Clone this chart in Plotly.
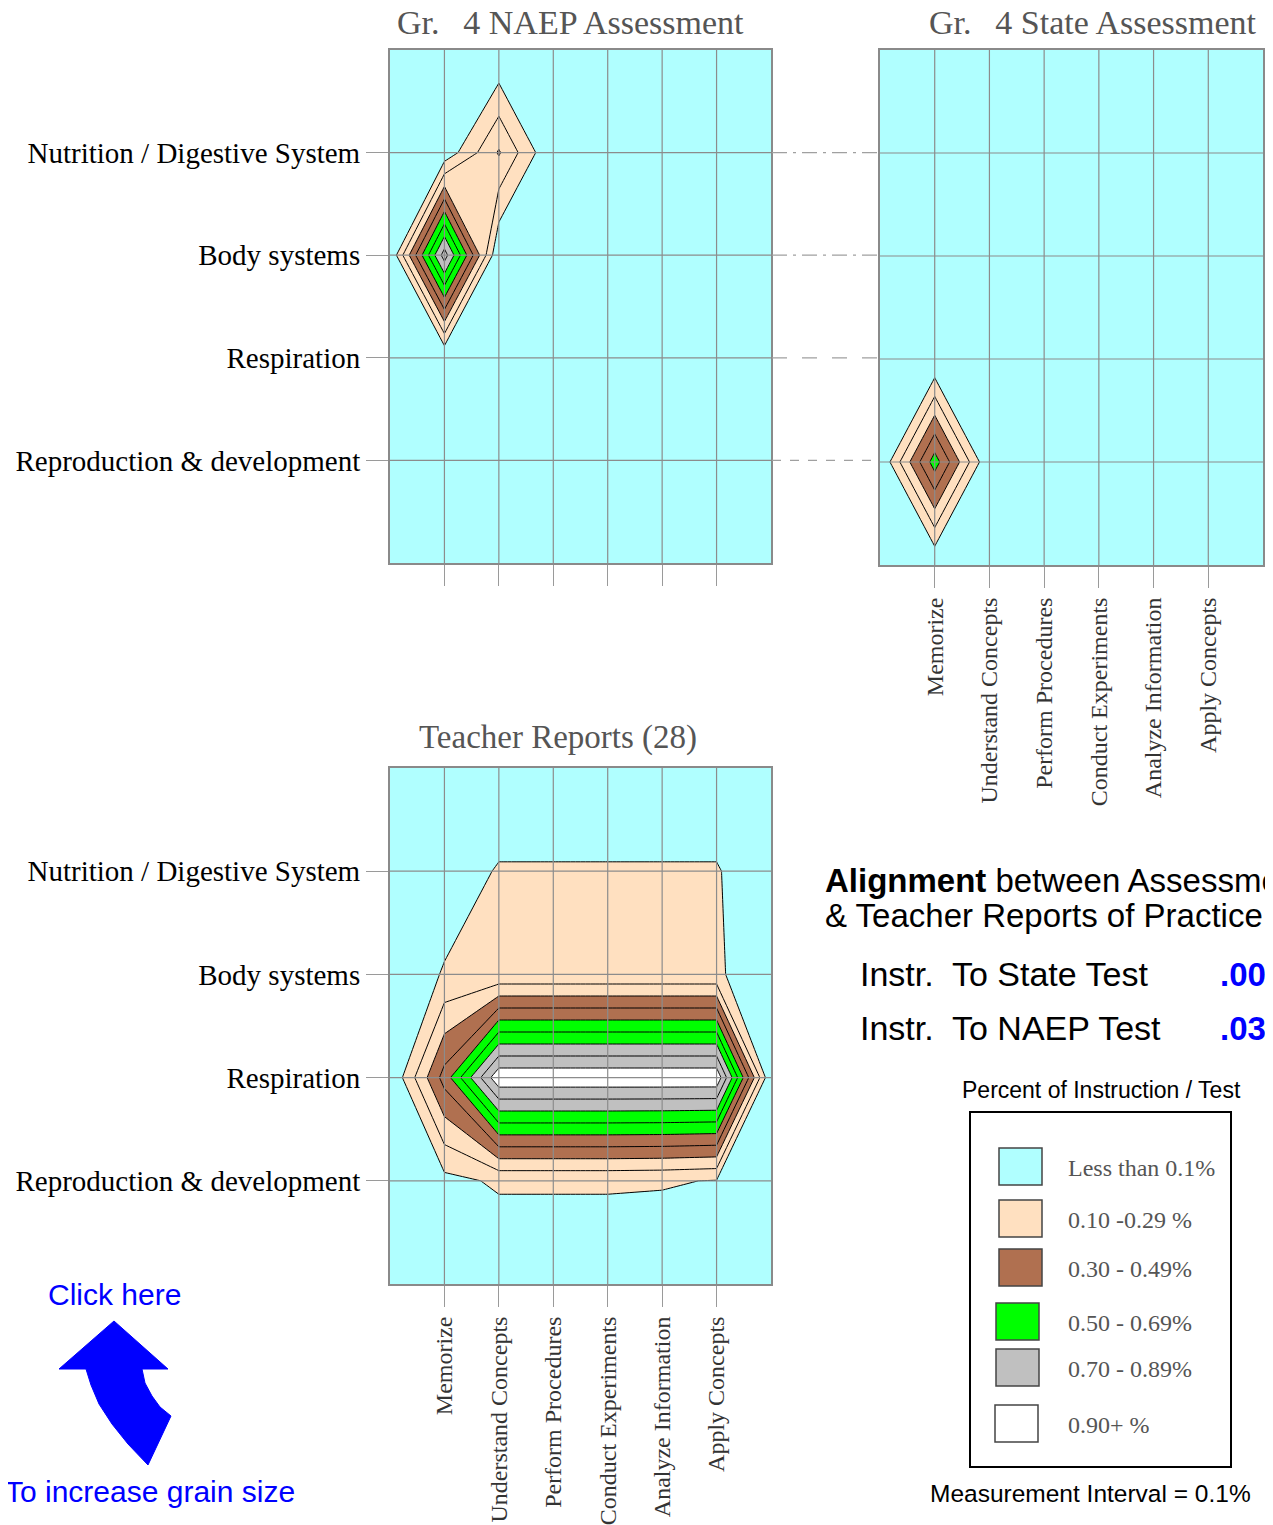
import plotly.graph_objects as go

# page has an 8px body margin, so the figure is drawn 8px smaller
PAGE_W, PAGE_H = 1273, 1525
OFF = 8
W, H = PAGE_W - OFF, PAGE_H - OFF

# categories
skills = ['Memorize', 'Understand Concepts', 'Perform Procedures',
          'Conduct Experiments', 'Analyze Information', 'Apply Concepts']
topics = ['Nutrition / Digestive System', 'Body systems', 'Respiration',
          'Reproduction & development']

# grid incl. one empty border cell on every side (x: -1..6, y: -1..4)
grid_x = [-1, 0, 1, 2, 3, 4, 5, 6]
grid_y = [-1, 0, 1, 2, 3, 4]

# percent of instruction / test, rows = border, topics..., border
naep_z = [
    [0, 0.00, 0.00, 0, 0, 0, 0, 0],
    [0, 0.03, 0.31, 0, 0, 0, 0, 0],
    [0, 0.85, 0.00, 0, 0, 0, 0, 0],
    [0, 0.00, 0.00, 0, 0, 0, 0, 0],
    [0, 0.00, 0.00, 0, 0, 0, 0, 0],
    [0, 0.00, 0.00, 0, 0, 0, 0, 0],
]
state_z = [
    [0, 0.00, 0, 0, 0, 0, 0, 0],
    [0, 0.00, 0, 0, 0, 0, 0, 0],
    [0, 0.00, 0, 0, 0, 0, 0, 0],
    [0, 0.00, 0, 0, 0, 0, 0, 0],
    [0, 0.55, 0, 0, 0, 0, 0, 0],
    [0, 0.00, 0, 0, 0, 0, 0, 0],
]
teacher_z = [
    [0, 0.00, 0.00, 0.00, 0.00, 0.00, 0.00, 0],
    [0, 0.03, 0.11, 0.11, 0.11, 0.11, 0.11, 0],
    [0, 0.11, 0.12, 0.12, 0.12, 0.12, 0.12, 0],
    [0, 0.44, 0.98, 0.98, 0.98, 0.98, 0.98, 0],
    [0, 0.07, 0.115, 0.115, 0.115, 0.11, 0.095, 0],
    [0, 0.00, 0.00, 0.00, 0.00, 0.00, 0.00, 0],
]

# legend classes
class_labels = ['Less than 0.1%', '0.10 -0.29 %', '0.30 - 0.49%',
                '0.50 - 0.69%', '0.70 - 0.89%', '0.90+ %']
class_edges = [0.1, 0.3, 0.5, 0.7, 0.9]
class_colors = ['#b0ffff', '#ffe0c0', '#b07050', '#00ff00', '#c0c0c0', '#ffffff']

alignment_labels = ['Instr.\u00a0 To State Test', 'Instr.\u00a0 To NAEP Test']
alignment_values = ['.00', '.03']

# contour levels every 0.1 (measurement interval)
c_start, c_size, c_end = 0.1, 0.1, 0.9
n_levels = 9


def to_s(v):
    # plotly maps fill colorscale onto [start - size/2, end + size/2]
    return ((v - c_start) / c_size + 0.5) / n_levels


colorscale = [[0, class_colors[0]]]
for edge, c0, c1 in zip(class_edges, class_colors[:-1], class_colors[1:]):
    colorscale.append([to_s(edge), c0])
    colorscale.append([to_s(edge), c1])
colorscale.append([1, class_colors[-1]])


def px(x):
    return (x - OFF) / W


def py(y):
    return 1 - (y - OFF) / H


serif = 'Liberation Serif'
sans = 'Liberation Sans'

fig = go.Figure()
panels = [(naep_z, 'x', 'y'), (state_z, 'x2', 'y2'), (teacher_z, 'x3', 'y3')]
for z, xa, ya in panels:
    fig.add_trace(go.Contour(
        x=grid_x, y=grid_y, z=z, xaxis=xa, yaxis=ya,
        colorscale=colorscale, showscale=False, hoverinfo='skip',
        contours=dict(start=c_start, end=c_end, size=c_size, coloring='fill'),
        line=dict(color='black', width=1, smoothing=0),
    ))

frame = dict(range=[-1, 6], showgrid=False, zeroline=False, showline=True,
             mirror=True, linecolor='#8a8a8a', linewidth=2,
             tickvals=list(range(len(skills))), ticktext=skills,
             ticks='outside', ticklen=21, tickwidth=1.2, tickcolor='#9a9a9a',
             tickangle=-90, tickfont=dict(family=serif, size=24, color='#333'))
yframe = dict(range=[4, -1], showgrid=False, zeroline=False, showline=True,
              mirror=True, linecolor='#8a8a8a', linewidth=2,
              tickvals=list(range(len(topics))), ticktext=topics,
              ticks='outside', ticklen=22, tickwidth=1.2, tickcolor='#9a9a9a',
              tickfont=dict(family=serif, size=29, color='black'))

fig.update_layout(
    width=W, height=H, template='none',
    margin=dict(l=0, r=0, t=0, b=0),
    paper_bgcolor='white', plot_bgcolor='white', showlegend=False,
    xaxis=dict(frame, domain=[px(390), px(771)], anchor='y', showticklabels=False),
    yaxis=dict(yframe, domain=[py(563), py(50)], anchor='x'),
    xaxis2=dict(frame, domain=[px(880), px(1263)], anchor='y2'),
    yaxis2=dict(yframe, domain=[py(565), py(50)], anchor='x2',
                ticks='', showticklabels=False),
    xaxis3=dict(frame, domain=[px(390), px(771)], anchor='y3'),
    yaxis3=dict(yframe, domain=[py(1284), py(768)], anchor='x3'),
)

shapes = []
grid_line = dict(color='#8c8c8c', width=1.2)
for xa, ya in [('x', 'y'), ('x2', 'y2'), ('x3', 'y3')]:
    for i in range(len(skills)):
        shapes.append(dict(type='line', layer='above', xref=xa, yref=ya + ' domain',
                           x0=i, x1=i, y0=0, y1=1, line=grid_line))
    for j in range(len(topics)):
        shapes.append(dict(type='line', layer='above', xref=xa + ' domain', yref=ya,
                           x0=0, x1=1, y0=j, y1=j, line=grid_line))

# dashed connectors between the two assessment maps
connector_dash = ['longdashdot', 'longdashdot', 'longdash', 'dash']
for j in range(len(topics)):
    shapes.append(dict(type='line', xref='paper', yref='y',
                       x0=px(772), x1=px(880), y0=j, y1=j,
                       line=dict(color='#a0a0a0', width=1.2, dash=connector_dash[j])))

# legend box and swatches
shapes.append(dict(type='rect', xref='paper', yref='paper',
                   x0=px(970), x1=px(1231), y0=py(1467), y1=py(1112),
                   line=dict(color='black', width=2)))
sw_x = [999, 999, 999, 996, 996, 995]
sw_y = [1148, 1200, 1249, 1303, 1349, 1405]
for k, col in enumerate(class_colors):
    shapes.append(dict(type='rect', xref='paper', yref='paper',
                       x0=px(sw_x[k]), x1=px(sw_x[k] + 43),
                       y0=py(sw_y[k] + 37), y1=py(sw_y[k]),
                       fillcolor=col, line=dict(color='#444', width=1.5)))

# curved arrow
arrow_pts = [(114, 1321), (168, 1369), (142, 1369), (145, 1383), (152, 1396),
             (160, 1407), (171, 1416), (148, 1465), (128, 1444), (112, 1424),
             (99, 1404), (91, 1385), (86, 1369), (59, 1369)]
path = 'M ' + ' L '.join(f'{px(a):.5f},{py(b):.5f}' for a, b in arrow_pts) + ' Z'
shapes.append(dict(type='path', xref='paper', yref='paper', path=path,
                   fillcolor='#0000ff', line=dict(color='#0000ff', width=1)))
fig.update_layout(shapes=shapes)

ann = []


def text(x, y, s, size, family=sans, color='black', xanchor='left'):
    ann.append(dict(x=px(x), y=py(y), xref='paper', yref='paper', text=s,
                    showarrow=False, xanchor=xanchor, yanchor='middle',
                    font=dict(family=family, size=size, color=color)))


text(395, 23, 'Gr.\u00a0\u2009 4 NAEP Assessment', 34, serif, '#555')
text(1259, 23, 'Gr.\u00a0\u2009 4 State Assessment', 34, serif, '#555', 'right')
text(558, 737, 'Teacher Reports (28)', 33, serif, '#555', 'center')

text(823, 880, '<b>Alignment</b> between Assessments', 33)
text(823, 915, '&amp; Teacher Reports of Practice:', 33)
for k, (lab, val) in enumerate(zip(alignment_labels, alignment_values)):
    yy = 974 + k * 54
    text(858, yy, lab, 34)
    text(1268, yy, '<b>' + val + '</b>', 33, color='#0000ff', xanchor='right')

text(1101, 1090, 'Percent of Instruction / Test', 23, xanchor='center')
for k, lab in enumerate(class_labels):
    text(1066, sw_y[k] + 20, lab, 24, serif, '#555')
text(1090, 1493, 'Measurement Interval = 0.1%', 24.5, xanchor='center')

text(114, 1294, 'Click here', 30, color='#0000ff', xanchor='center')
text(150, 1491, 'To increase grain size', 30, color='#0000ff', xanchor='center')

fig.update_layout(annotations=ann)

fig.write_html('out.html')
